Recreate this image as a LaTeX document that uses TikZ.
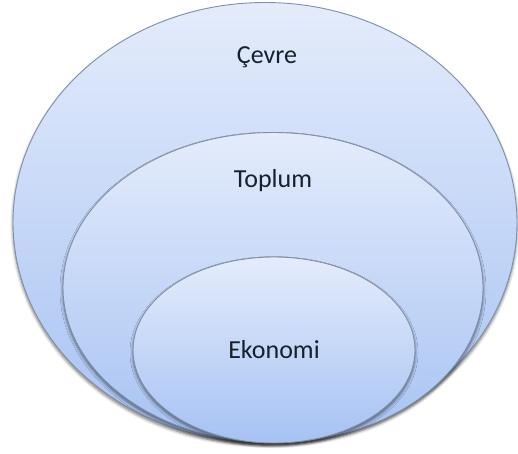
\documentclass[tikz,border=0pt]{standalone}
\usepackage{fontspec}
\setmainfont{Carlito}
\usetikzlibrary{shadows,shadows.blur}
\definecolor{topc}{HTML}{E4ECFB}
\definecolor{botc}{HTML}{A6C2F3}
\definecolor{edgec}{HTML}{7F8FA8}
\definecolor{txt}{HTML}{17202B}
\tikzset{
  ring/.style={draw=edgec, line width=0.9pt, top color=topc, bottom color=botc,
    blur shadow={shadow xshift=0pt, shadow yshift=-2.5pt, shadow blur steps=6, shadow blur radius=3pt, shadow opacity=55}},
  lbl/.style={font=\fontsize{26}{31}\selectfont, text=txt}
}
\begin{document}
\begin{tikzpicture}[x=1pt,y=-1pt]
\useasboundingbox (0,0) rectangle (518,453);
\path[ring] (265,222.5) ellipse [x radius=252, y radius=220];
\path[ring] (273,287.5) ellipse [x radius=210, y radius=155];
\path[ring] (274,350) ellipse [x radius=141, y radius=93];
\node[lbl] (cevre) at (267,57) {Çevre};
\node[lbl] (toplum) at (273,181) {Toplum};
\node[lbl] (ekonomi) at (274,350) {Ekonomi};
\end{tikzpicture}
\end{document}
